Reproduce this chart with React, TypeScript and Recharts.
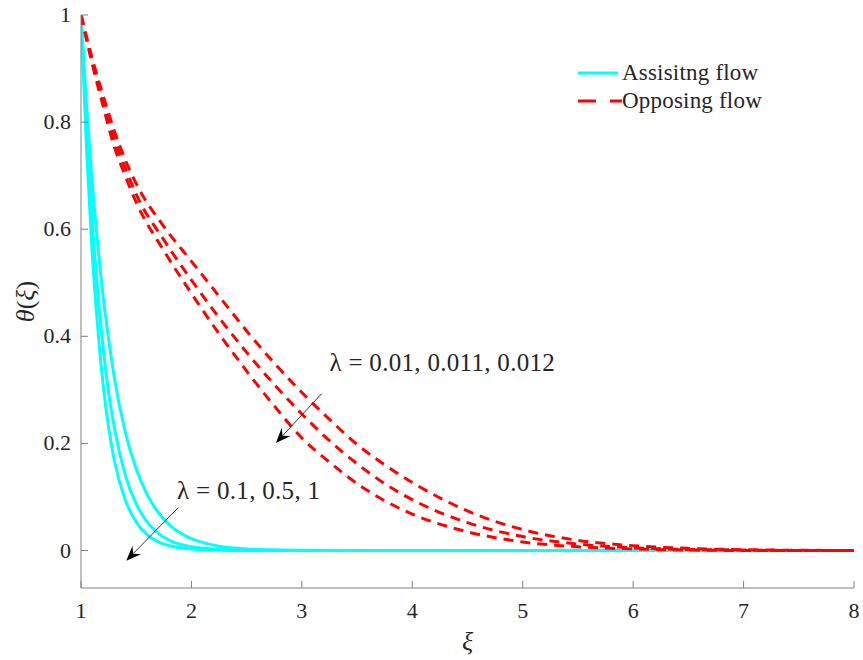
import React from "react";
import { LineChart, Line, XAxis, YAxis, ReferenceLine, ReferenceDot } from "recharts";

// Assisting flow (cyan, solid) – lambda = 0.1, 0.5, 1
const xsCyan = [1, 1.05, 1.1, 1.15, 1.2, 1.25, 1.3, 1.4, 1.5, 1.6, 1.7, 1.8, 2, 2.2, 2.5, 3, 4, 5, 6, 7, 8];
const cyan1 = [1, 0.75, 0.56, 0.42, 0.31, 0.23, 0.17, 0.095, 0.053, 0.029, 0.016, 0.009, 0.003, 0.001, 0, 0, 0, 0, 0, 0, 0];
const cyan2 = [1, 0.79, 0.62, 0.485, 0.38, 0.295, 0.232, 0.142, 0.087, 0.053, 0.032, 0.019, 0.007, 0.003, 0.001, 0, 0, 0, 0, 0, 0];
const cyan3 = [1, 0.83, 0.69, 0.575, 0.475, 0.395, 0.325, 0.222, 0.152, 0.104, 0.071, 0.048, 0.022, 0.01, 0.003, 0.0005, 0, 0, 0, 0, 0];

// Opposing flow (red, dashed) – lambda = 0.01, 0.011, 0.012
const xsRed = [1, 1.1, 1.2, 1.3, 1.4, 1.5, 1.75, 2, 2.25, 2.5, 2.75, 3, 3.25, 3.5, 3.75, 4, 4.5, 5, 5.5, 6, 6.5, 7, 7.5, 8];
const red1 = [1, 0.91, 0.83, 0.755, 0.70, 0.65, 0.56, 0.48, 0.405, 0.335, 0.27, 0.21, 0.165, 0.125, 0.093, 0.068, 0.035, 0.016, 0.007, 0.003, 0.001, 0, 0, 0];
const red2 = [1, 0.915, 0.84, 0.77, 0.715, 0.665, 0.58, 0.505, 0.435, 0.37, 0.31, 0.255, 0.205, 0.162, 0.125, 0.095, 0.052, 0.026, 0.012, 0.005, 0.002, 0.001, 0, 0];
const red3 = [1, 0.92, 0.85, 0.785, 0.73, 0.685, 0.605, 0.54, 0.475, 0.41, 0.35, 0.295, 0.245, 0.198, 0.16, 0.127, 0.074, 0.039, 0.019, 0.009, 0.004, 0.0015, 0.0005, 0];

const xTicks = [1, 2, 3, 4, 5, 6, 7, 8];
const yTicks = [0, 0.2, 0.4, 0.6, 0.8, 1];
const legendLabels = ["Assisitng flow", "Opposing flow"];
const annotRed = "λ = 0.01, 0.011, 0.012";
const annotCyan = "λ = 0.1, 0.5, 1";

const toSeries = (xs: number[], ys: number[]) => xs.map((x, i) => ({ x, y: ys[i] }));

const AXIS = "#808080";
const TXT = "#262626";
const FONT = "Times New Roman, Liberation Serif, Tinos, serif";
const CYAN = "#00ffff";
const RED = "#ff0000";

const BottomTick = (p: any) => (
  <g>
    <line x1={p.x} y1={p.y} x2={p.x} y2={p.y - 7} stroke={AXIS} />
    <text x={p.x} y={p.y + 30} textAnchor="middle" style={{ fontFamily: FONT, fontSize: 22 }} fill={TXT}>
      {p.payload.value}
    </text>
  </g>
);
const TopTick = (p: any) => <line x1={p.x} y1={p.y} x2={p.x} y2={p.y + 7} stroke={AXIS} />;
const LeftTick = (p: any) => (
  <g>
    <line x1={p.x} y1={p.y} x2={p.x + 7} y2={p.y} stroke={AXIS} />
    <text x={p.x - 10} y={p.y + 7} textAnchor="end" style={{ fontFamily: FONT, fontSize: 22 }} fill={TXT}>
      {p.payload.value}
    </text>
  </g>
);
const RightTick = (p: any) => <line x1={p.x} y1={p.y} x2={p.x - 7} y2={p.y} stroke={AXIS} />;

const Arrow = (p: any) => {
  const { x1, y1, x2, y2 } = p;
  const dx = x2 - x1;
  const dy = y2 - y1;
  const L = Math.sqrt(dx * dx + dy * dy) || 1;
  const ux = dx / L;
  const uy = dy / L;
  const nx = -uy;
  const ny = ux;
  const len = 15;
  const w = 6;
  const bx = x2 - ux * len;
  const by = y2 - uy * len;
  const mx = x2 - ux * len * 0.65;
  const my = y2 - uy * len * 0.65;
  const pts = `${x2},${y2} ${bx + nx * w},${by + ny * w} ${mx},${my} ${bx - nx * w},${by - ny * w}`;
  return (
    <g>
      <line x1={x1} y1={y1} x2={mx} y2={my} stroke="#333" strokeWidth={1} />
      <polygon points={pts} fill="#000" />
    </g>
  );
};

const makeText = (t: string) => (p: any) => (
  <text x={p.cx} y={p.cy} style={{ fontFamily: FONT, fontSize: 25, letterSpacing: 0.3 }} fill={TXT}>
    {t}
  </text>
);

const YLabel = (p: any) => {
  const cx = 28;
  const cy = p.viewBox ? p.viewBox.y + p.viewBox.height / 2 : 300;
  return (
    <text x={cx} y={cy} transform={`rotate(-90, ${cx}, ${cy})`} textAnchor="middle" dominantBaseline="middle" style={{ fontFamily: FONT, fontSize: 26 }} fill={TXT}>
      <tspan fontStyle="italic">θ</tspan>
      <tspan>(</tspan>
      <tspan fontStyle="italic">ξ</tspan>
      <tspan>)</tspan>
    </text>
  );
};

const XLabel = (p: any) => {
  const cx = p.viewBox ? p.viewBox.x + p.viewBox.width / 2 : 467;
  return (
    <text x={cx} y={650} textAnchor="middle" style={{ fontFamily: FONT, fontSize: 26, fontStyle: "italic" }} fill={TXT}>
      ξ
    </text>
  );
};

export default function App() {
  const c1 = toSeries(xsCyan, cyan1);
  const c2 = toSeries(xsCyan, cyan2);
  const c3 = toSeries(xsCyan, cyan3);
  const r1 = toSeries(xsRed, red1);
  const r2 = toSeries(xsRed, red2);
  const r3 = toSeries(xsRed, red3);
  return (
    <div style={{ position: "absolute", left: 0, top: 0, width: 863, height: 660, background: "#fff" }}>
      <LineChart width={863} height={660} margin={{ top: 15, right: 9, bottom: 32, left: 0 }}>
        <XAxis
          xAxisId="b"
          dataKey="x"
          type="number"
          domain={[1, 8]}
          ticks={xTicks}
          orientation="bottom"
          height={40}
          tickSize={0}
          tickMargin={0}
          tickLine={false}
          axisLine={{ stroke: AXIS }}
          tick={<BottomTick />}
          label={<XLabel />}
          allowDataOverflow
        />
        <XAxis
          xAxisId="t"
          dataKey="x"
          type="number"
          domain={[1, 8]}
          ticks={xTicks}
          orientation="top"
          height={0}
          tickSize={0}
          tickMargin={0}
          tickLine={false}
          axisLine={{ stroke: AXIS }}
          tick={<TopTick />}
          allowDataOverflow
        />
        <YAxis
          yAxisId="l"
          type="number"
          domain={[-0.07, 1]}
          ticks={yTicks}
          orientation="left"
          width={81}
          tickSize={0}
          tickMargin={0}
          tickLine={false}
          axisLine={{ stroke: AXIS }}
          tick={<LeftTick />}
          label={<YLabel />}
          allowDataOverflow
        />
        <YAxis
          yAxisId="r"
          type="number"
          domain={[-0.07, 1]}
          ticks={yTicks}
          orientation="right"
          width={0}
          tickSize={0}
          tickMargin={0}
          tickLine={false}
          axisLine={{ stroke: AXIS }}
          tick={<RightTick />}
          allowDataOverflow
        />
        {[c1, c2, c3].map((d, i) => (
          <Line
            key={"c" + i}
            xAxisId="b"
            yAxisId="l"
            data={d}
            dataKey="y"
            type="monotone"
            stroke={CYAN}
            strokeWidth={3}
            dot={false}
            isAnimationActive={false}
          />
        ))}
        {[r1, r2, r3].map((d, i) => (
          <Line
            key={"r" + i}
            xAxisId="b"
            yAxisId="l"
            data={d}
            dataKey="y"
            type="monotone"
            stroke={RED}
            strokeWidth={3}
            strokeDasharray="10 7"
            dot={false}
            isAnimationActive={false}
          />
        ))}
        <ReferenceLine
          xAxisId="b"
          yAxisId="l"
          segment={[{ x: 3.18, y: 0.293 }, { x: 2.765, y: 0.201 }]}
          shape={<Arrow />}
          ifOverflow="visible"
        />
        <ReferenceLine
          xAxisId="b"
          yAxisId="l"
          segment={[{ x: 1.88, y: 0.08 }, { x: 1.41, y: -0.019 }]}
          shape={<Arrow />}
          ifOverflow="visible"
        />
        <ReferenceDot xAxisId="b" yAxisId="l" x={3.25} y={0.335} r={0} shape={makeText(annotRed)} ifOverflow="visible" />
        <ReferenceDot xAxisId="b" yAxisId="l" x={1.87} y={0.097} r={0} shape={makeText(annotCyan)} ifOverflow="visible" />
      </LineChart>
      <div style={{ position: "absolute", left: 576, top: 59, fontFamily: FONT, fontSize: 23, color: TXT, lineHeight: "28px", letterSpacing: 0.2 }}>
        <div style={{ display: "flex", alignItems: "center" }}>
          <svg width={46} height={10}>
            <line x1={2} y1={5} x2={42} y2={5} stroke={CYAN} strokeWidth={3} />
          </svg>
          <span>{legendLabels[0]}</span>
        </div>
        <div style={{ display: "flex", alignItems: "center" }}>
          <svg width={46} height={10}>
            <line x1={2} y1={5} x2={46} y2={5} stroke={RED} strokeWidth={3} strokeDasharray="18 14" />
          </svg>
          <span>{legendLabels[1]}</span>
        </div>
      </div>
    </div>
  );
}
